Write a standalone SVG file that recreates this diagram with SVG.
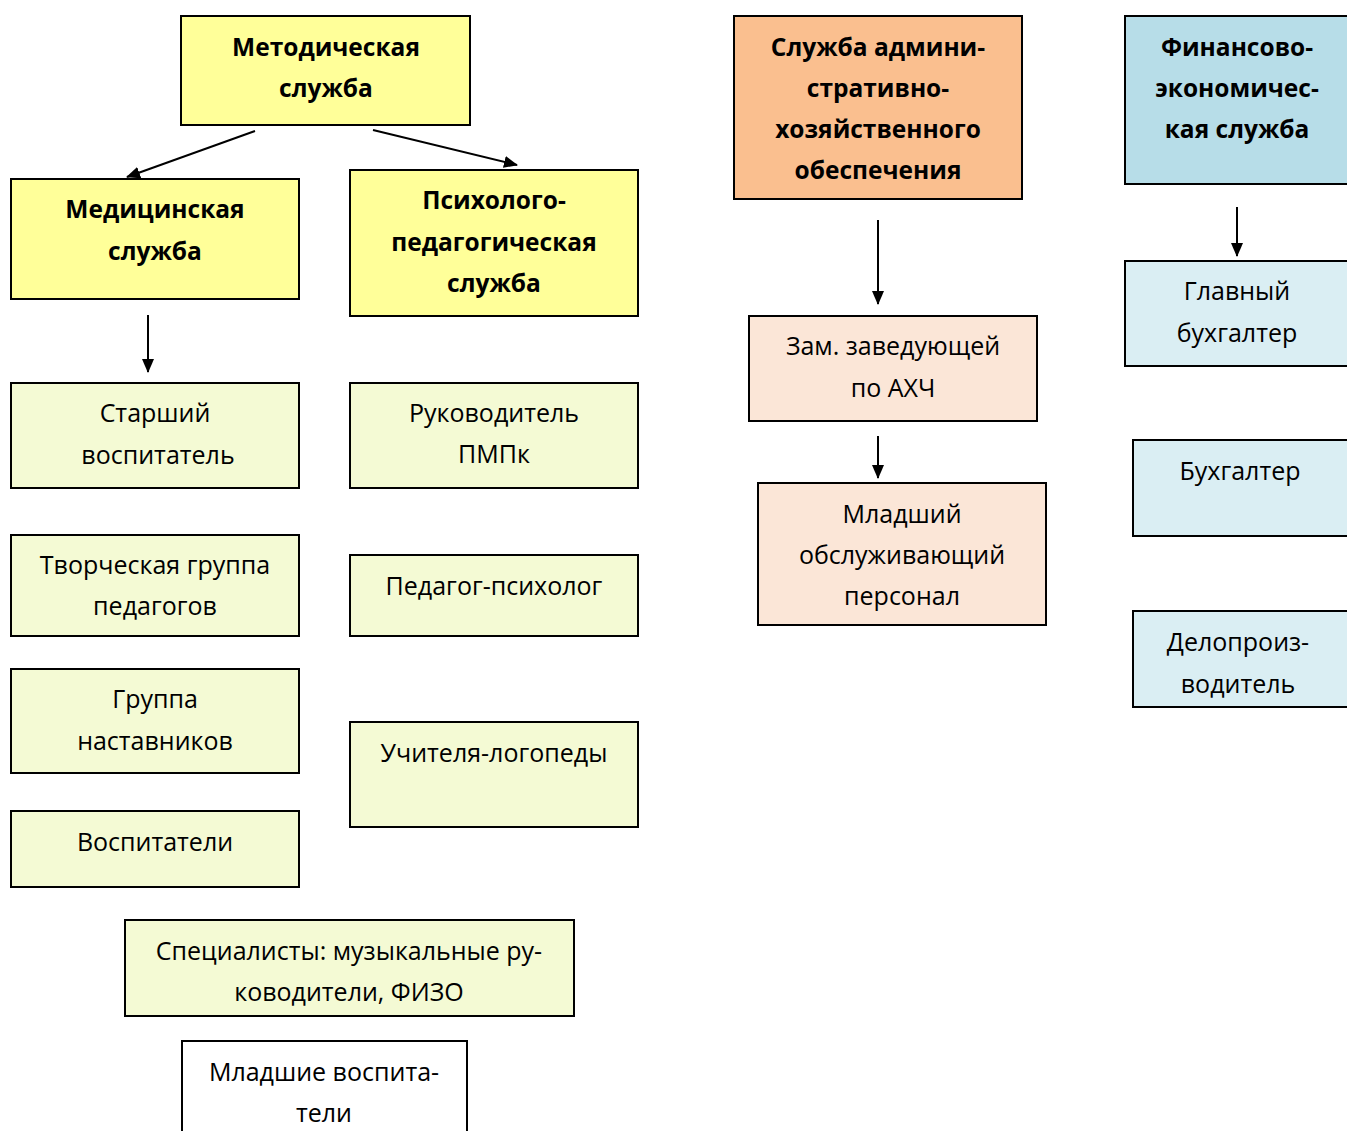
<svg xmlns="http://www.w3.org/2000/svg" width="1347" height="1131" viewBox="0 0 1347 1131">
<defs>
<marker id="ah" markerWidth="14" markerHeight="12" refX="13" refY="6" orient="auto" markerUnits="userSpaceOnUse">
<path d="M0,0 L14,6 L0,12 Z" fill="#000"/>
</marker>
<style>
rect{stroke:#000;stroke-width:2}
text{font-family:"Open Sans","Noto Sans",sans-serif;font-size:25px;fill:#000;text-anchor:middle;dominant-baseline:central}
.b{font-weight:bold;font-size:24.5px}
.y{fill:#FFFF99}
.g{fill:#F4FAD4}
.o{fill:#FABF8F}
.p{fill:#FBE6D7}
.bl{fill:#B7DDE8}
.lb{fill:#DAEEF3}
.w{fill:#FFFFFF}
.c line{stroke:#000;stroke-width:2;marker-end:url(#ah)}
</style>
</defs>
<rect width="1347" height="1131" fill="#fff" style="stroke:none"/>
<g id="metod"><rect class="y" x="181" y="16" width="289" height="109"/><text class="b" x="326" y="46">Методическая</text><text class="b" x="326" y="87">служба</text></g>
<g id="med"><rect class="y" x="11" y="179" width="288" height="120"/><text class="b" x="155" y="208">Медицинская</text><text class="b" x="155" y="250">служба</text></g>
<g id="psy"><rect class="y" x="350" y="170" width="288" height="146"/><text class="b" x="494" y="199">Психолого-</text><text class="b" x="494" y="241">педагогическая</text><text class="b" x="494" y="282">служба</text></g>
<g id="starsh"><rect class="g" x="11" y="383" width="288" height="105"/><text x="155" y="412">Старший</text><text x="158" y="454">воспитатель</text></g>
<g id="ruk"><rect class="g" x="350" y="383" width="288" height="105"/><text x="494" y="412">Руководитель</text><text x="494" y="453">ПМПк</text></g>
<g id="tvor"><rect class="g" x="11" y="535" width="288" height="101"/><text x="155" y="564">Творческая группа</text><text x="155" y="605">педагогов</text></g>
<g id="pedpsy"><rect class="g" x="350" y="555" width="288" height="81"/><text x="494" y="585">Педагог-психолог</text></g>
<g id="nast"><rect class="g" x="11" y="669" width="288" height="104"/><text x="155" y="698">Группа</text><text x="155" y="740">наставников</text></g>
<g id="logo"><rect class="g" x="350" y="722" width="288" height="105"/><text x="494" y="752">Учителя-логопеды</text></g>
<g id="vosp"><rect class="g" x="11" y="811" width="288" height="76"/><text x="155" y="841">Воспитатели</text></g>
<g id="spec"><rect class="g" x="125" y="920" width="449" height="96"/><text x="349" y="950">Специалисты: музыкальные ру-</text><text x="349" y="991">ководители, ФИЗО</text></g>
<g id="mlvosp"><rect class="w" x="182" y="1041" width="285" height="100"/><text x="324" y="1071">Младшие воспита-</text><text x="324" y="1112">тели</text></g>
<g id="aho"><rect class="o" x="734" y="16" width="288" height="183"/><text class="b" x="878" y="46">Служба админи-</text><text class="b" x="878" y="87">стративно-</text><text class="b" x="878" y="128">хозяйственного</text><text class="b" x="878" y="169">обеспечения</text></g>
<g id="zam"><rect class="p" x="749" y="316" width="288" height="105"/><text x="893" y="345">Зам. заведующей</text><text x="893" y="387">по АХЧ</text></g>
<g id="mlobs"><rect class="p" x="758" y="483" width="288" height="142"/><text x="902" y="513">Младший</text><text x="902" y="554">обслуживающий</text><text x="902" y="595">персонал</text></g>
<g id="fin"><rect class="bl" x="1125" y="16" width="230" height="168"/><text class="b" x="1237" y="46">Финансово-</text><text class="b" x="1237" y="87">экономичес-</text><text class="b" x="1237" y="128">кая служба</text></g>
<g id="glbuh"><rect class="lb" x="1125" y="261" width="230" height="105"/><text x="1237" y="290">Главный</text><text x="1237" y="332">бухгалтер</text></g>
<g id="buh"><rect class="lb" x="1133" y="440" width="222" height="96"/><text x="1240" y="470">Бухгалтер</text></g>
<g id="delo"><rect class="lb" x="1133" y="611" width="222" height="96"/><text x="1238" y="641">Делопроиз-</text><text x="1238" y="683">водитель</text></g>
<g id="connectors" class="c">
<line x1="255" y1="131" x2="127" y2="177"/>
<line x1="373" y1="130" x2="517" y2="165"/>
<line x1="148" y1="315" x2="148" y2="372"/>
<line x1="878" y1="220" x2="878" y2="304"/>
<line x1="878" y1="436" x2="878" y2="478"/>
<line x1="1237" y1="207" x2="1237" y2="256"/>
</g>
</svg>
